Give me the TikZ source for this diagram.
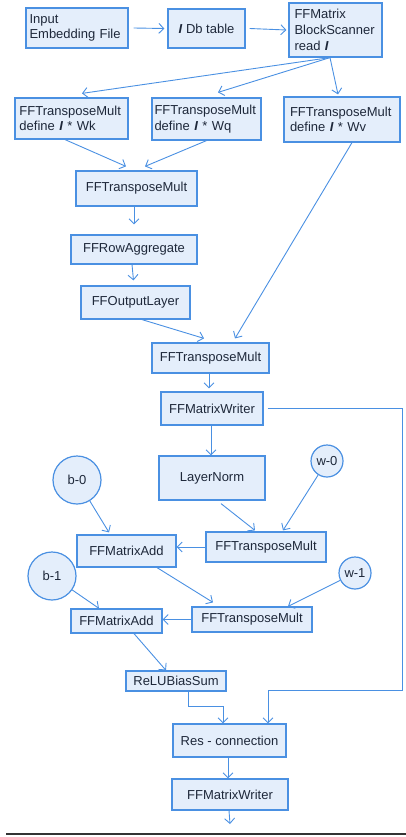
\documentclass[tikz,border=0pt]{standalone}
\usepackage{fontspec}
\setmainfont{Liberation Sans}
\usetikzlibrary{arrows.meta}
\definecolor{bc}{RGB}{74,144,226}
\definecolor{bf}{RGB}{228,238,251}
\definecolor{tc}{RGB}{30,40,58}
\newcommand{\bI}{\textbf{\textit{I}}}
\tikzset{
  box/.style={draw=bc, fill=bf, line width=1.2pt, inner sep=0pt, text=tc,
    font=\fontsize{13}{15.5}\selectfont, align=center},
  mbox/.style={box, align=left},
  circ/.style={draw=bc, fill=bf, line width=1.2pt, circle, inner sep=0pt, text=tc,
    font=\fontsize{13}{15.5}\selectfont},
  conn/.style={draw=bc, line width=0.9pt, -{Straight Barb[length=5pt,width=10pt]}},
  line/.style={draw=bc, line width=0.9pt}
}
\begin{document}
\begin{tikzpicture}[x=1pt,y=-1pt]
\useasboundingbox (0,0) rectangle (406,837);
% nodes
\node[mbox, minimum width=102pt, minimum height=40pt, text width=95pt] (inp) at (77,28) {Input\\Embedding File};
\node[box, minimum width=77pt, minimum height=39pt] (db) at (206.5,28.5) {\bI{} Db table};
\node[mbox, minimum width=93pt, minimum height=54pt, text width=82pt, font=\fontsize{13}{16}\selectfont] (scan) at (335.5,30) {FFMatrix\\BlockScanner\\read \bI};
\node[mbox, minimum width=113pt, minimum height=41pt, text width=104pt] (wk) at (71.5,118.5) {FFTransposeMult\\define \bI{} * Wk};
\node[mbox, minimum width=109pt, minimum height=42pt, text width=104pt] (wq) at (206.5,119) {FFTransposeMult\\define \bI{} * Wq};
\node[mbox, minimum width=116pt, minimum height=45pt, text width=104pt] (wv) at (342,119.5) {FFTransposeMult\\define \bI{} * Wv};
\node[box, minimum width=121pt, minimum height=35pt] (tm1) at (136.5,188.5) {FFTransposeMult};
\node[box, minimum width=126pt, minimum height=29pt] (agg) at (134,249.5) {FFRowAggregate};
\node[box, minimum width=109pt, minimum height=33pt] (outl) at (135.5,302.5) {FFOutputLayer};
\node[box, minimum width=117pt, minimum height=30pt] (tm2) at (210.5,358) {FFTransposeMult};
\node[box, minimum width=102pt, minimum height=33pt] (wr1) at (212,408.5) {FFMatrixWriter};
\node[box, minimum width=106pt, minimum height=44pt] (ln) at (212,478) {LayerNorm};
\node[circ, minimum size=32pt] (w0) at (327,461) {w-0};
\node[circ, minimum size=48pt] (b0) at (77,480) {b-0};
\node[box, minimum width=99pt, minimum height=32pt] (add1) at (126.5,551) {FFMatrixAdd};
\node[box, minimum width=120pt, minimum height=30pt] (tm3) at (266,547) {FFTransposeMult};
\node[circ, minimum size=48pt] (b1) at (52,576) {b-1};
\node[circ, minimum size=32pt] (w1) at (355,573) {w-1};
\node[box, minimum width=91pt, minimum height=24pt] (add2) at (116.5,621) {FFMatrixAdd};
\node[box, minimum width=120pt, minimum height=25pt] (tm4) at (252,619.5) {FFTransposeMult};
\node[box, minimum width=100pt, minimum height=20pt] (relu) at (176,681) {ReLUBiasSum};
\node[box, minimum width=113pt, minimum height=33pt] (res) at (229.5,740.5) {Res - connection};
\node[box, minimum width=116pt, minimum height=31pt] (wr2) at (230,794.5) {FFMatrixWriter};
\coordinate (out) at (230,824);
% connectors
\draw[conn] ([xshift=5pt]inp.east) -- ([xshift=-3pt]db.west);
\draw[conn] ([xshift=4pt]db.east) -- ([xshift=-2pt]scan.west);
\draw[conn] ([xshift=-5.5pt]scan.south) -- ([xshift=10.5pt,yshift=4pt]wk.north);
\draw[conn] ([xshift=-5.5pt]scan.south) -- ([xshift=11.5pt,yshift=5pt]wq.north);
\draw[conn] ([xshift=-5.5pt]scan.south) -- ([xshift=-4pt,yshift=2pt]wv.north);
\draw[conn] ([xshift=-6.5pt]wk.south) -- ([xshift=-10.5pt,yshift=4pt]tm1.north);
\draw[conn] (wq.south) -- ([xshift=8.5pt,yshift=4pt]tm1.north);
\draw[conn] ([xshift=-2.5pt]tm1.south) -- ([xshift=0pt,yshift=10pt]agg.north);
\draw[conn] ([xshift=-2pt]agg.south) -- ([xshift=-2pt,yshift=5pt]outl.north);
\draw[conn] ([xshift=6.5pt]outl.south) -- ([xshift=-6.5pt,yshift=4pt]tm2.north);
\draw[conn] ([xshift=10pt]wv.south) -- ([xshift=24.5pt,yshift=4pt]tm2.north);
\draw[conn] ([xshift=-1.5pt]tm2.south) -- ([xshift=-3pt,yshift=3pt]wr1.north);
\draw[conn] ([xshift=-1pt]wr1.south) -- ([xshift=-1pt]ln.north);
\draw[conn] ([xshift=4pt]wr1.east) -- (402,408.5) -- (402,690) -| ([xshift=38.5pt]res.north);
\draw[conn] ([xshift=9pt,yshift=-3pt]ln.south) -- ([xshift=-11pt,yshift=1pt]tm3.north);
\draw[conn] (w0) -- ([xshift=17pt,yshift=1pt]tm3.north);
\draw[conn] (b0) -- ([xshift=-17.5pt,yshift=2pt]add1.north);
\draw[conn] (tm3.west) -- (tm3.west -| add1.east);
\draw[conn] ([xshift=30.5pt]add1.south) -- ([xshift=-39pt,yshift=4pt]tm4.north);
\draw[conn] (b1) -- ([xshift=-17.5pt]add2.north);
\draw[conn] (w1) -- ([xshift=36pt]tm4.north);
\draw[conn] (tm4.west) -- (tm4.west -| add2.east);
\draw[conn] ([xshift=17.5pt]add2.south) -- ([xshift=-10pt]relu.north);
\draw[conn] ([xshift=12pt]relu.south) -- ++(0,15) -| ([xshift=-6.5pt]res.north);
\draw[conn] ([xshift=-1.5pt]res.south) -- ([xshift=-2pt]wr2.north);
\draw[conn] ([xshift=-1pt]wr2.south) -- (out);
% bottom rule
\draw[line width=1.3pt, draw=black!80] (6,834) -- (406,834);
\end{tikzpicture}
\end{document}
